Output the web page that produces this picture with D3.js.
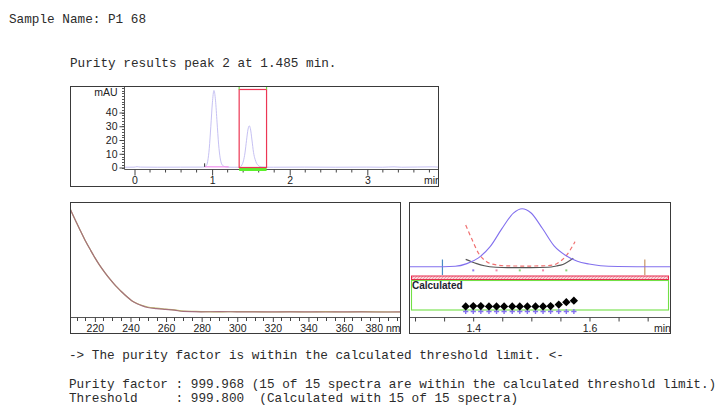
<!DOCTYPE html>
<html>
<head>
<meta charset="utf-8">
<script src="https://cdn.jsdelivr.net/npm/d3@7"></script>
<style>
  html, body { margin: 0; padding: 0; background: #fff; }
  svg { display: block; }
  .mono { font-family: "Liberation Mono", "Courier New", monospace; font-size: 12.7px; fill: #2b2b2b; white-space: pre; }
  .ax text, .ax-label { font-family: "Liberation Sans", Arial, sans-serif; font-size: 10.5px; fill: #222; }
  .calc { font-family: "Liberation Sans", Arial, sans-serif; font-size: 10px; font-weight: bold; fill: #1e2430; }
</style>
</head>
<body>
<svg id="chart" width="725" height="407"></svg>
<script>
// ---------- report text ----------
const sampleName = "P1 68";
const peakNumber = 2;
const peakTime = "1.485";
const purityFactor = "999.968";
const thresholdValue = "999.800";
const spectraWithin = 15, spectraTotal = 15;

// ---------- chromatogram (min, mAU) ----------
const chromTrace = [
  [-0.12, 0.2], [0.0, 0.25], [0.04, 0.6], [0.08, 0.3], [0.3, 0.2], [0.6, 0.25], [0.88, 0.3],
  [0.90, 0.4], [0.93, 1.2], [0.95, 4.6], [0.97, 14], [0.99, 30], [1.01, 47], [1.03, 56],
  [1.05, 49], [1.07, 33], [1.09, 17], [1.11, 7], [1.13, 2.5], [1.16, 0.8], [1.20, 0.3],
  [1.25, 0.2], [1.30, 0.2], [1.35, 0.2], [1.37, 0.4], [1.39, 1.8], [1.41, 4.8], [1.43, 10.6],
  [1.45, 19.8], [1.47, 28], [1.485, 30.3], [1.50, 28.2], [1.52, 20], [1.54, 11], [1.56, 6],
  [1.58, 3], [1.60, 1.6], [1.62, 0.7], [1.65, 0.3], [1.70, 0.2], [1.8, 0.2], [2.2, 0.3],
  [2.6, 0.2], [3.0, 0.3], [3.2, 0.2], [3.35, 0.5], [3.45, 0.2], [3.85, 0.5], [3.93, 0.2]
];
const chromYTicks = [0, 10, 20, 30, 40];
const chromXTicks = [0, 1, 2, 3];
const peak1Baseline = [0.91, 1.22];      // integration of peak 1 (min)
const purityWindow = [1.355, 1.708];     // peak 2 window (min)

// ---------- UV spectra (nm, normalised absorbance) ----------
const wavelengths = [206, 208, 210, 212, 215, 218, 220, 223, 226, 229, 232, 235, 238, 241, 244,
  247, 250, 255, 260, 265, 270, 280, 290, 300, 310, 320, 330, 340, 350, 360, 370, 380, 392];
const spectrumMauve = [0.97, 0.90, 0.835, 0.77, 0.675, 0.59, 0.535, 0.46, 0.395, 0.335, 0.28,
  0.233, 0.188, 0.15, 0.123, 0.104, 0.09, 0.08, 0.073, 0.066, 0.055, 0.052, 0.053, 0.052,
  0.051, 0.052, 0.051, 0.052, 0.050, 0.052, 0.051, 0.050, 0.052];
const spectrumGreen = [0.97, 0.90, 0.835, 0.77, 0.675, 0.59, 0.535, 0.46, 0.395, 0.335, 0.28,
  0.233, 0.188, 0.15, 0.125, 0.107, 0.094, 0.084, 0.076, 0.068, 0.058, 0.054, 0.051, 0.054,
  0.053, 0.050, 0.053, 0.050, 0.053, 0.050, 0.053, 0.052, 0.050];
const nmTicks = [220, 240, 260, 280, 300, 320, 340, 360, 380];

// ---------- purity detail ----------
const spectraTimes = [1.388, 1.401, 1.414, 1.428, 1.441, 1.454, 1.468, 1.481, 1.494, 1.508,
  1.521, 1.534, 1.548, 1.561, 1.574];
const purityPoints = [0.12, 0.13, 0.13, 0.12, 0.12, 0.12, 0.12, 0.12, 0.12, 0.12, 0.12, 0.13,
  0.18, 0.26, 0.31];
const thresholdPoints = [-0.05, -0.05, -0.05, -0.05, -0.05, -0.05, -0.05, -0.05, -0.05, -0.05,
  -0.05, -0.05, -0.05, -0.05, -0.05];
const shownSpectra = [1.401, 1.441, 1.481, 1.521, 1.561];
const shownColors = ["#8f7cf0", "#f08aa8", "#8ed07a", "#f08aa8", "#8ed07a"];
const noiseCurve = [[1.388, 21.6], [1.398, 14.7], [1.41, 7], [1.424, 2.6], [1.441, 0.9],
  [1.46, 0.4], [1.48, 0.35], [1.50, 0.35], [1.52, 0.45], [1.539, 0.9], [1.55, 2.6],
  [1.562, 6.1], [1.576, 13]];
const similarityCurve = [[1.388, 3.8], [1.398, 2.6], [1.407, 1.6], [1.42, 0.5], [1.44, -0.3],
  [1.46, -0.5], [1.50, -0.5], [1.53, -0.3], [1.544, 0.4], [1.555, 1.2], [1.5617, 2.2],
  [1.573, 4.4]];
const peakMarks = [1.348, 1.696];
const detailTicks = [1.30, 1.35, 1.40, 1.45, 1.50, 1.55, 1.60, 1.65, 1.70];
const detailLabels = [1.4, 1.6];

const svg = d3.select("#chart");
const defs = svg.append("defs");
function clip(id, x, y, w, h) {
  defs.append("clipPath").attr("id", id).append("rect")
    .attr("x", x).attr("y", y).attr("width", w).attr("height", h);
}

// ---------- header text ----------
svg.append("text").attr("class", "mono").attr("x", 9).attr("y", 23)
  .text("Sample Name: " + sampleName);
svg.append("text").attr("class", "mono").attr("x", 70).attr("y", 67)
  .text(`Purity results peak ${peakNumber} at ${peakTime} min.`);

// ================= chromatogram panel =================
const cf = { x: 70, y: 86, w: 369, h: 101 };
clip("clipTop", cf.x, cf.y, cf.w, cf.h);
const xT = d3.scaleLinear().domain([-0.116, 3.93]).range([125, 439]);
const yT = d3.scaleLinear().domain([0, 40]).range([167.5, 112.5]);
const axisYpos = 169.5, axisXpos = 124.5;
const gTop = svg.append("g").attr("clip-path", "url(#clipTop)");

// trace
gTop.append("path").datum(chromTrace)
  .attr("fill", "none").attr("stroke", "#c6c1f3").attr("stroke-width", 1)
  .attr("d", d3.line().x(d => xT(d[0])).y(d => yT(d[1])).curve(d3.curveMonotoneX));

// peak 1 baseline and start mark
gTop.append("line")
  .attr("x1", xT(peak1Baseline[0])).attr("x2", xT(peak1Baseline[1]))
  .attr("y1", yT(0.5)).attr("y2", yT(0.5))
  .attr("stroke", "#f29af0").attr("stroke-width", 1.3);
gTop.append("line")
  .attr("x1", xT(peak1Baseline[0])).attr("x2", xT(peak1Baseline[0]))
  .attr("y1", yT(0.5) - 3.5).attr("y2", yT(0.5))
  .attr("stroke", "#333").attr("stroke-width", 1);

// x axis
gTop.append("line").attr("x1", axisXpos).attr("x2", 439).attr("y1", axisYpos).attr("y2", axisYpos)
  .attr("stroke", "#555");
const minorT = d3.range(0, 20).map(i => i * 0.2).filter(v => Math.abs(v - Math.round(v)) > 1e-6);
gTop.selectAll(".mtx").data(minorT).join("line")
  .attr("x1", d => xT(d) + 0.5).attr("x2", d => xT(d) + 0.5)
  .attr("y1", axisYpos).attr("y2", axisYpos + 3).attr("stroke", "#444");
const gx = gTop.append("g").attr("class", "ax")
  .attr("transform", `translate(0.5,${axisYpos})`)
  .call(d3.axisBottom(xT).tickValues(chromXTicks).tickFormat(d3.format("d")).tickSize(6).tickPadding(1));
gx.select(".domain").remove();
gx.selectAll(".tick line").attr("stroke", "#444");
gTop.append("text").attr("class", "ax-label")
  .attr("x", 424).attr("y", 184).text("min");

// y axis
svg.append("line").attr("x1", axisXpos).attr("x2", axisXpos).attr("y1", cf.y).attr("y2", axisYpos)
  .attr("stroke", "#555");
svg.selectAll(".mty").data(d3.range(0, 60, 2)).join("line")
  .attr("x1", axisXpos - 2.5).attr("x2", axisXpos)
  .attr("y1", d => Math.round(yT(d)) + 0.5).attr("y2", d => Math.round(yT(d)) + 0.5)
  .attr("stroke", "#555");
const gy = svg.append("g").attr("class", "ax").attr("transform", `translate(${axisXpos},0)`)
  .call(d3.axisLeft(yT).tickValues(chromYTicks).tickSize(5).tickPadding(2));
gy.select(".domain").remove();
gy.selectAll(".tick line").attr("stroke", "#444");
svg.append("text").attr("class", "ax-label").attr("x", 117.5).attr("y", 95.5)
  .attr("text-anchor", "end").text("mAU");

// purity window
const wx0 = xT(purityWindow[0]), wx1 = xT(purityWindow[1]);
svg.append("rect").attr("x", wx0).attr("y", 167).attr("width", wx1 - wx0).attr("height", 4)
  .attr("fill", "#5cf02c");
svg.append("rect").attr("x", wx0).attr("y", 89.5).attr("width", wx1 - wx0).attr("height", 78)
  .attr("fill", "none").attr("stroke", "#ec3654").attr("stroke-width", 1.2);
[wx0, wx1].forEach(x => svg.append("line").attr("x1", x).attr("x2", x)
  .attr("y1", cf.y).attr("y2", 89.5).attr("stroke", "#6ee040").attr("stroke-width", 1.2));

svg.append("rect").attr("x", cf.x + 0.5).attr("y", cf.y + 0.5).attr("width", cf.w - 1).attr("height", cf.h - 1)
  .attr("fill", "none").attr("stroke", "#3a3a3a");

// ================= spectra panel =================
const sf = { x: 70, y: 202, w: 331, h: 132 };
clip("clipSpec", sf.x, sf.y, sf.w, sf.h);
const xS = d3.scaleLinear().domain([206.3, 392.3]).range([70, 401]);
const yS = d3.scaleLinear().domain([0, 1]).range([317.7, 204]);
const gSpec = svg.append("g").attr("clip-path", "url(#clipSpec)");
const specLine = d3.line().x((d, i) => xS(wavelengths[i])).y(d => yS(d)).curve(d3.curveMonotoneX);
gSpec.append("path").datum(spectrumGreen).attr("fill", "none")
  .attr("stroke", "#c2c46c").attr("stroke-width", 1.2).attr("d", specLine);
gSpec.append("path").datum(spectrumMauve).attr("fill", "none")
  .attr("stroke", "#a4707e").attr("stroke-width", 1.2).attr("d", specLine);

const specAxisY = 317.5;
gSpec.append("line").attr("x1", sf.x).attr("x2", sf.x + sf.w).attr("y1", specAxisY).attr("y2", specAxisY)
  .attr("stroke", "#555");
gSpec.selectAll(".mts").data(d3.range(210, 395, 5).filter(v => v % 20 !== 0)).join("line")
  .attr("x1", d => Math.round(xS(d)) + 0.5).attr("x2", d => Math.round(xS(d)) + 0.5)
  .attr("y1", specAxisY).attr("y2", specAxisY + 3.5).attr("stroke", "#444");
const gxs = gSpec.append("g").attr("class", "ax").attr("transform", `translate(0.5,${specAxisY})`)
  .call(d3.axisBottom(xS).tickValues(nmTicks.slice(0, -1)).tickSize(4.5).tickPadding(2.5));
gxs.select(".domain").remove();
gxs.selectAll(".tick line").attr("stroke", "#444");
gSpec.append("line").attr("x1", Math.round(xS(380)) + 0.5).attr("x2", Math.round(xS(380)) + 0.5)
  .attr("y1", specAxisY).attr("y2", specAxisY + 4.5).attr("stroke", "#444");
gSpec.append("text").attr("class", "ax-label").attr("x", 400.5).attr("y", 331.5)
  .attr("text-anchor", "end").text(nmTicks[nmTicks.length - 1] + " nm");

svg.append("rect").attr("x", sf.x + 0.5).attr("y", sf.y + 0.5).attr("width", sf.w - 1).attr("height", sf.h - 1)
  .attr("fill", "none").attr("stroke", "#3a3a3a");

// ================= purity detail panel =================
const df = { x: 409, y: 202, w: 262, h: 132 };
clip("clipDet", df.x, df.y, df.w, df.h);
const xD = d3.scaleLinear().domain([1.2905, 1.7405]).range([409, 670.7]);
const yD = d3.scaleLinear().domain([0, 30.3]).range([266.7, 208.3]);
const yP = d3.scaleLinear().domain([0, 1]).range([310, 280]);
const gDet = svg.append("g").attr("clip-path", "url(#clipDet)");

// peak markers
[[peakMarks[0], "#4a8cc4"], [peakMarks[1], "#c89464"]].forEach(([t, c]) =>
  gDet.append("line").attr("x1", xD(t)).attr("x2", xD(t)).attr("y1", 259.5).attr("y2", 275)
    .attr("stroke", c).attr("stroke-width", 1.2));

// spectrum positions
gDet.selectAll(".sp").data(shownSpectra).join("rect")
  .attr("x", d => xD(d) - 1).attr("y", yD(-1.9) - 1).attr("width", 2).attr("height", 2)
  .attr("fill", (d, i) => shownColors[i]);

const detailLine = d3.line().x(d => xD(d[0])).y(d => yD(d[1])).curve(d3.curveMonotoneX);
gDet.append("path").datum(similarityCurve).attr("fill", "none")
  .attr("stroke", "#555").attr("stroke-width", 1.1).attr("d", detailLine);
gDet.append("path").datum(noiseCurve).attr("fill", "none")
  .attr("stroke", "#f07070").attr("stroke-width", 1.2).attr("stroke-dasharray", "4,3").attr("d", detailLine);
gDet.append("path")
  .datum(chromTrace.filter(d => d[0] >= 1.2 && d[0] <= 1.8))
  .attr("fill", "none").attr("stroke", "#8270ee").attr("stroke-width", 1.1)
  .attr("d", d3.line().x(d => xD(d[0])).y(d => yD(d[1] - 0.2)).curve(d3.curveMonotoneX));

// threshold band
const hatch = defs.append("pattern").attr("id", "hatch").attr("patternUnits", "userSpaceOnUse")
  .attr("width", 3).attr("height", 3);
hatch.append("rect").attr("width", 3).attr("height", 3).attr("fill", "#fbd6dc");
hatch.append("path").attr("d", "M0,3 L3,0").attr("stroke", "#f08a9a").attr("stroke-width", 0.8);
gDet.append("rect").attr("x", 411.5).attr("y", 276).attr("width", 257).attr("height", 3.5)
  .attr("fill", "url(#hatch)").attr("stroke", "#e8284c").attr("stroke-width", 1);
gDet.append("rect").attr("x", 411.5).attr("y", 280.5).attr("width", 257).attr("height", 29.5)
  .attr("fill", "none").attr("stroke", "#72e046").attr("stroke-width", 1.1);
gDet.append("text").attr("class", "calc").attr("x", 412).attr("y", 289).text("Calculated");

// threshold plus markers
gDet.selectAll(".th").data(spectraTimes).join("path")
  .attr("transform", (d, i) => `translate(${xD(d)},${yP(thresholdPoints[i])})`)
  .attr("d", d => { const s = 2.6; return `M${-s},0H${s}M0,${-s}V${s}`; })
  .attr("fill", "none").attr("stroke", "#8470f0").attr("stroke-width", 1.4);
// purity diamonds
gDet.selectAll(".pu").data(spectraTimes).join("path")
  .attr("transform", (d, i) => `translate(${xD(d)},${yP(purityPoints[i])})`)
  .attr("d", d3.symbol().type(d3.symbolDiamond2 ? d3.symbolDiamond2 : d3.symbolDiamond).size(44))
  .attr("fill", "#000");

// time axis
gDet.append("line").attr("x1", df.x).attr("x2", df.x + df.w).attr("y1", specAxisY).attr("y2", specAxisY)
  .attr("stroke", "#555");
const gxd = gDet.append("g").attr("class", "ax").attr("transform", `translate(0.5,${specAxisY})`)
  .call(d3.axisBottom(xD).tickValues(detailTicks)
    .tickFormat(d => detailLabels.some(l => Math.abs(l - d) < 1e-6) ? d3.format(".1f")(d) : "")
    .tickSize(4).tickPadding(3.5));
gxd.select(".domain").remove();
gxd.selectAll(".tick line").attr("stroke", "#444");
gDet.append("text").attr("class", "ax-label").attr("x", 654).attr("y", 332).text("min");

svg.append("rect").attr("x", df.x + 0.5).attr("y", df.y + 0.5).attr("width", df.w - 1).attr("height", df.h - 1)
  .attr("fill", "none").attr("stroke", "#3a3a3a");

// ---------- result text ----------
svg.append("text").attr("class", "mono").attr("x", 69).attr("y", 359)
  .text("-> The purity factor is within the calculated threshold limit. <-");
svg.append("text").attr("class", "mono").attr("x", 69).attr("y", 388)
  .text(`Purity factor : ${purityFactor} (${spectraWithin} of ${spectraTotal} spectra are within the calculated threshold limit.)`);
svg.append("text").attr("class", "mono").attr("x", 69).attr("y", 402)
  .text(`Threshold     : ${thresholdValue}  (Calculated with ${spectraWithin} of ${spectraTotal} spectra)`);
</script>
</body>
</html>
